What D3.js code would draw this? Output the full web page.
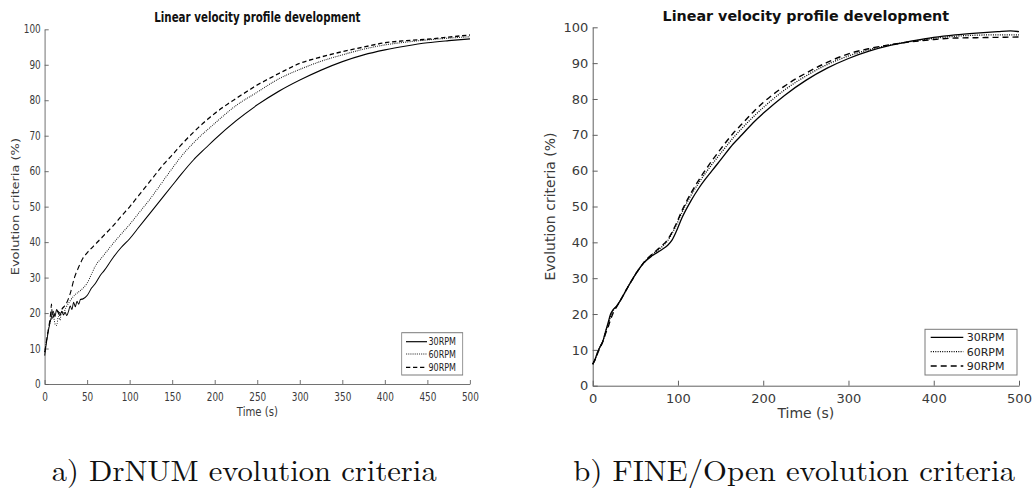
<!DOCTYPE html>
<html>
<head>
<meta charset="utf-8">
<script src="https://cdn.jsdelivr.net/npm/d3@7"></script>
<style>
  html, body { margin: 0; padding: 0; background: #fff; }
  svg { display: block; }
</style>
</head>
<body>
<svg id="fig" width="1032" height="496"></svg>
<script>
// ---- DrNUM runs: [time (s), evolution criteria (%)] ----
const drnum30 = [[0,8],[2,11.5],[4,14.5],[6,17],[8,19],[10,20.5],[12,19],[14,21],[16,20],[18,19.3],[20,20.5],[22,19.5],[24,20.2],[26,19.3],[28,20.5],[30,22],[32,21],[34,23],[36,21.8],[38,23.3],[40,22.5],[42,23.8],[45,24],[50,25],[55,27],[60,28.5],[65,30.5],[70,32],[80,35.5],[90,38.5],[100,41],[110,44],[125,48.5],[140,53],[150,56],[160,59],[175,63.2],[190,66.7],[200,69],[225,74.2],[250,78.7],[275,82.5],[300,85.7],[325,88.5],[350,90.9],[375,92.8],[400,94.2],[425,95.3],[450,96.2],[475,96.8],[500,97.3]];
const drnum60 = [[0,9],[2,12],[4,15],[6,17],[8,18.5],[10,19.5],[12,17],[14,16.5],[16,19],[18,18],[20,20.5],[22,20],[25,21.5],[30,23.5],[35,25],[40,26],[45,27],[50,28.5],[55,31],[60,33.5],[65,35],[70,36.5],[80,39.5],[90,42.3],[100,45],[110,48],[125,52.5],[140,57.5],[150,60.8],[160,64],[175,68],[200,73.5],[225,78.5],[250,82.3],[275,86],[300,88.7],[325,91],[350,92.8],[375,94.4],[400,95.6],[425,96.4],[450,97],[475,97.5],[500,97.9]];
const drnum90 = [[0,9],[2,12],[4,15],[6,18],[7,20],[8,22.5],[9,18.5],[10,19],[12,20],[15,20.5],[18,20],[20,21],[25,22.5],[30,25.5],[35,30],[40,33],[45,35.5],[50,37],[55,38.3],[60,39.5],[70,42],[80,44.5],[90,47.3],[100,50],[110,53],[125,57.5],[140,62],[150,64.6],[160,67.3],[175,71],[200,76.3],[225,80.5],[250,84.3],[275,87.5],[300,90.4],[325,92.2],[350,93.7],[375,95],[400,96.2],[425,96.8],[450,97.2],[475,97.8],[500,98.4]];

// ---- FINE/Open runs: [time (s), evolution criteria (%)] ----
const fine30 = [[0,6],[3,7.5],[6,9.5],[9,11],[12,12.5],[15,15],[18,17.5],[21,20],[24,21.2],[28,22.2],[32,23.6],[40,27],[50,31],[60,34.3],[70,36.3],[80,37.8],[88,39.2],[93,40.6],[98,43],[105,47],[115,51.5],[125,55.3],[140,60],[150,63],[165,67.5],[175,70],[190,73.8],[200,76],[225,81],[250,85.2],[275,88.6],[300,91.3],[325,93.4],[350,95],[375,96.2],[400,97.2],[425,97.9],[450,98.4],[475,98.8],[490,99],[500,98.8]];
const fine60 = [[0,6],[3,7.5],[6,9.5],[9,11],[12,12.5],[15,15],[18,17],[21,19.3],[24,21],[28,22.2],[32,23.6],[40,27],[50,31],[60,34.3],[70,36.6],[80,38.5],[88,40.5],[93,42.5],[98,44.8],[105,48.5],[115,53],[125,56.8],[140,61.8],[150,64.8],[165,69.2],[175,71.8],[190,75.4],[200,77.6],[225,82.5],[250,86.4],[275,89.6],[300,92],[325,93.8],[350,95.1],[375,96.1],[400,96.9],[425,97.5],[450,97.8],[475,97.9],[500,97.9]];
const fine90 = [[0,6],[3,7.3],[6,9.2],[9,10.8],[12,12.3],[15,14.5],[18,16.3],[21,18.5],[24,20.3],[28,22],[32,23.6],[40,27],[50,31],[60,34.4],[70,36.8],[80,38.8],[88,40.8],[93,42.8],[98,45.2],[105,49],[115,53.6],[125,57.6],[140,62.8],[150,66],[165,70.5],[175,73],[190,76.8],[200,79],[225,83.6],[250,87.2],[275,90.2],[300,92.6],[325,94.1],[350,95.2],[375,96],[400,96.6],[425,97],[450,97.1],[475,97.2],[500,97.3]];

const seriesNames = ["30RPM", "60RPM", "90RPM"];
const xTicksA = [0, 50, 100, 150, 200, 250, 300, 350, 400, 450, 500];
const xTicksB = [0, 100, 200, 300, 400, 500];
const yTicks = [0, 10, 20, 30, 40, 50, 60, 70, 80, 90, 100];
const chartTitle = "Linear velocity profile development";
const xLabel = "Time (s)";
const yLabel = "Evolution criteria (%)";
const captions = ["a) DrNUM evolution criteria", "b) FINE/Open evolution criteria"];

const svg = d3.select("#fig");
const sans = "'DejaVu Sans', Verdana, sans-serif";

// Layout of the two panels (screen pixels). The left figure is horizontally
// condensed, so it is drawn inside a group scaled by `sx`.
const panels = [
  {
    series: [drnum30, drnum60, drnum90], xTicks: xTicksA, sx: 0.78,
    left: 44.7, right: 470, bottom: 384, top: 29.3,
    tickFont: 11.4, labelFont: 13, titleFont: 13.2, legendFont: 10.3,
    titleY: 17.3, xTickPad: 8.6, xLabelY: 411, yLabelX: 15, tickLen: 4, yPad: 4,
    legend: { x: 401.7, y: 332.7, w: 61, h: 42.3, rows: [341.7, 354, 367.3], s0: 406, s1: 427, tx: 428.5 },
    widths: [1.15, 1.1, 1.35], dashes: [null, "1,1.4", "5.5,3.5"]
  },
  {
    series: [fine30, fine60, fine90], xTicks: xTicksB, sx: 1,
    left: 592.7, right: 1019, bottom: 385.7, top: 27.3,
    tickFont: 13, labelFont: 14, titleFont: 14.3, legendFont: 11,
    titleY: 15.7, xTickPad: 8, xLabelY: 413, yLabelX: 550, tickLen: 5, yPad: 4.4,
    legend: { x: 925, y: 329.3, w: 92, h: 45.7, rows: [337.3, 351.7, 366], s0: 930.7, s1: 963.3, tx: 966.7 },
    widths: [1.3, 1.3, 1.4], dashes: [null, "1,1.3", "6,4"]
  }
];

const axisColor = "#606060";
const textColor = "#3a3a3a";

panels.forEach(p => {
  const k = p.sx;
  const g = svg.append("g").attr("transform", `scale(${k},1)`);

  const x = d3.scaleLinear().domain([0, 500]).range([p.left / k, p.right / k]);
  const y = d3.scaleLinear().domain([0, 100]).range([p.bottom, p.top]);

  // x axis, ticks pointing into the plot
  const xa = g.append("g").attr("transform", `translate(0,${p.bottom})`)
    .call(d3.axisBottom(x).tickValues(p.xTicks).tickFormat(d3.format("d"))
      .tickSizeInner(-p.tickLen).tickSizeOuter(0).tickPadding(p.xTickPad));
  // y axis, ticks pointing into the plot
  const ya = g.append("g").attr("transform", `translate(${p.left / k},0)`)
    .call(d3.axisLeft(y).tickValues(yTicks).tickFormat(d3.format("d"))
      .tickSizeInner(-p.tickLen / k).tickSizeOuter(0).tickPadding(p.yPad / k));

  [xa, ya].forEach(a => {
    a.select(".domain").attr("stroke", axisColor).attr("stroke-width", 1);
    a.selectAll(".tick line").attr("stroke", axisColor).attr("stroke-width", 1);
    a.selectAll(".tick text").attr("fill", textColor)
      .style("font-family", sans).style("font-size", p.tickFont + "px");
  });

  // series lines
  const line = d3.line().x(d => x(d[0])).y(d => y(d[1])).curve(d3.curveMonotoneX);
  p.series.forEach((s, i) => {
    g.append("path").datum(s)
      .attr("d", line)
      .attr("fill", "none")
      .attr("stroke", "#000")
      .attr("stroke-width", p.widths[i])
      .attr("stroke-linejoin", "round")
      .attr("stroke-dasharray", p.dashes[i]);
  });

  // title
  g.append("text")
    .attr("x", (p.left + p.right) / 2 / k).attr("y", p.titleY).attr("dy", "0.36em")
    .attr("text-anchor", "middle")
    .style("font-family", sans).style("font-size", p.titleFont + "px")
    .style("font-weight", "bold").attr("fill", "#111")
    .text(chartTitle);

  // axis labels
  g.append("text")
    .attr("x", (p.left + p.right) / 2 / k).attr("y", p.xLabelY).attr("dy", "0.36em")
    .attr("text-anchor", "middle")
    .style("font-family", sans).style("font-size", p.labelFont + "px")
    .attr("fill", textColor).text(xLabel);

  g.append("text")
    .attr("transform", `translate(${p.yLabelX / k},${(p.top + p.bottom) / 2}) rotate(-90)`)
    .attr("dy", "0.36em").attr("text-anchor", "middle")
    .style("font-family", sans).style("font-size", p.labelFont + "px")
    .attr("fill", textColor).text(yLabel);

  // legend
  const L = p.legend;
  g.append("rect")
    .attr("x", L.x / k).attr("y", L.y).attr("width", L.w / k).attr("height", L.h)
    .attr("fill", "#fff").attr("stroke", "#7a7a7a").attr("stroke-width", 1);
  seriesNames.forEach((name, i) => {
    g.append("line")
      .attr("x1", L.s0 / k).attr("x2", L.s1 / k)
      .attr("y1", L.rows[i]).attr("y2", L.rows[i])
      .attr("stroke", "#000").attr("stroke-width", p.widths[i])
      .attr("stroke-dasharray", p.dashes[i]);
    g.append("text")
      .attr("x", L.tx / k).attr("y", L.rows[i]).attr("dy", "0.36em")
      .style("font-family", sans).style("font-size", p.legendFont + "px")
      .attr("fill", "#222").text(name);
  });
});

// sub-figure captions
const capPos = [{ x: 51.7, w: 385 }, { x: 573.3, w: 441.7 }];
captions.forEach((c, i) => {
  svg.append("text")
    .attr("x", capPos[i].x).attr("y", 481)
    .attr("textLength", capPos[i].w).attr("lengthAdjust", "spacingAndGlyphs")
    .style("font-family", "'Latin Modern Roman', 'CMU Serif', 'Liberation Serif', 'Times New Roman', serif")
    .style("font-size", "29px").attr("fill", "#111")
    .text(c);
});
</script>
</body>
</html>
